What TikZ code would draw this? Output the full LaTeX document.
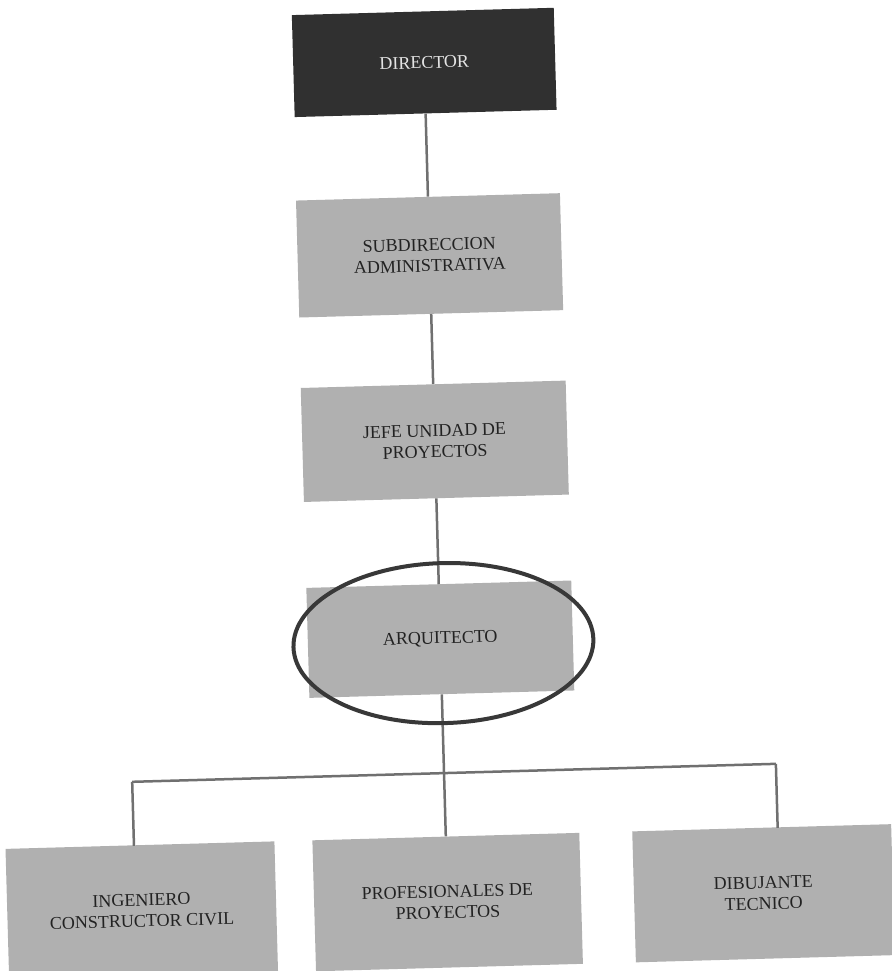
\documentclass[tikz,border=0pt]{standalone}
\usepackage{fontspec}
\setmainfont{Liberation Serif}
\usetikzlibrary{shapes.geometric}
\definecolor{boxgray}{HTML}{B0B0B0}
\definecolor{darkbox}{HTML}{303030}
\definecolor{linegray}{HTML}{707070}
\definecolor{ringcol}{HTML}{383838}
\definecolor{txtdark}{HTML}{222222}
\definecolor{txtlight}{HTML}{E4E4E4}
\tikzset{
  orgbox/.style={fill=boxgray, draw=none, inner sep=0pt, align=center,
    text=txtdark, font=\fontsize{18}{21}\selectfont},
  topbox/.style={orgbox, fill=darkbox, text=txtlight},
  link/.style={draw=linegray, line width=2.5pt},
  ringstyle/.style={draw=ringcol, line width=4pt, ellipse, inner sep=0pt}
}
\begin{document}
\begin{tikzpicture}[x=1pt,y=-1pt]
\useasboundingbox (0,0) rectangle (891,971);
\fill[white] (0,0) rectangle (891,971);
\begin{scope}[rotate around={1.6:(445,485)}, transform shape]
  \coordinate (hub) at (436,773);
  \coordinate (hl) at (124,773);
  \coordinate (hr) at (768,773);
  \coordinate (ingtop) at (124,837);
  \coordinate (dibtop) at (768,837);

  \node[topbox, minimum width=262pt, minimum height=102pt] (dir) at (436,62) {DIRECTOR};
  \node[orgbox, minimum width=264pt, minimum height=117pt] (sub) at (436,255) {SUBDIRECCION\\ADMINISTRATIVA};
  \node[orgbox, minimum width=265pt, minimum height=114pt] (jefe) at (436,441) {JEFE UNIDAD DE\\PROYECTOS};
  \node[orgbox, minimum width=265pt, minimum height=110pt] (arq) at (436,639) {ARQUITECTO};
  \node[orgbox, minimum width=269pt, minimum height=131pt] (ing) at (130,902) {INGENIERO\\CONSTRUCTOR CIVIL};
  \node[orgbox, minimum width=267pt, minimum height=131pt] (prof) at (436,902) {PROFESIONALES DE\\PROYECTOS};
  \node[orgbox, minimum width=259pt, minimum height=131pt] (dib) at (752,902) {DIBUJANTE\\TECNICO};

  \draw[link] (dir.south) -- (sub.north);
  \draw[link] (sub.south) -- (jefe.north);
  \draw[link] (jefe.south) -- (arq.north);
  \draw[link] (arq.south) -- (hub);
  \draw[link] (hl) -- (hr);
  \draw[link] (hl) -- (ingtop);
  \draw[link] (hub) -- (prof.north);
  \draw[link] (hr) -- (dibtop);

  \node[ringstyle, minimum width=300pt, minimum height=160pt] (ring) at (439,643) {};
\end{scope}
\end{tikzpicture}
\end{document}
